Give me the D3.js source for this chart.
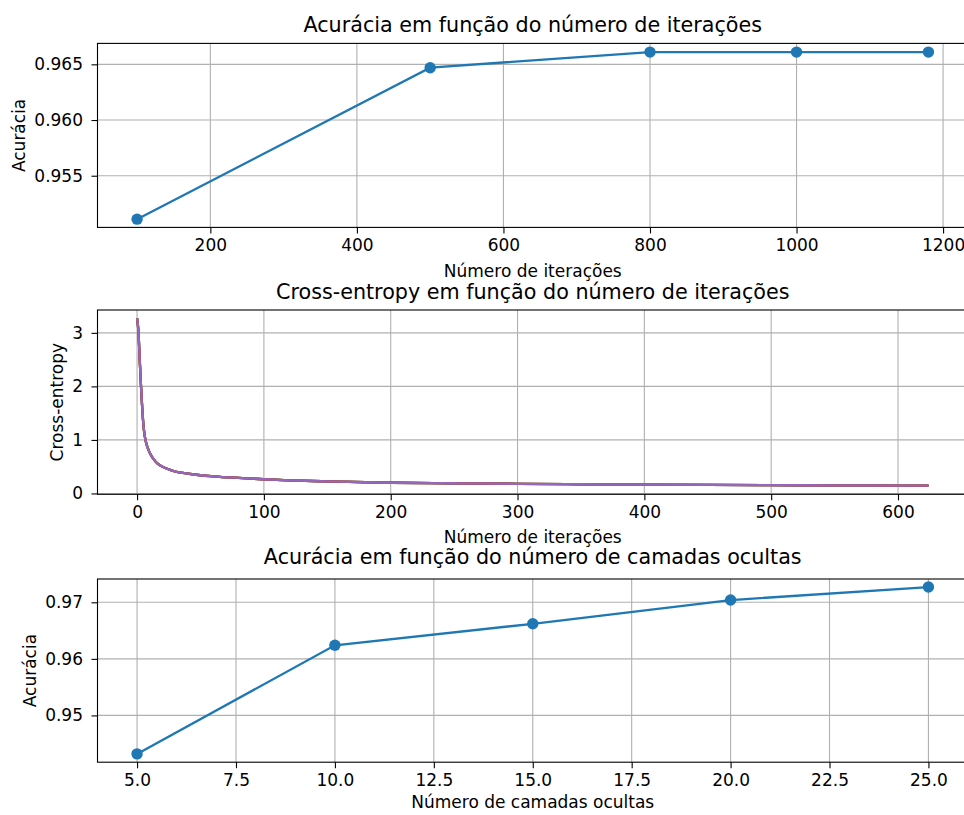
<!DOCTYPE html>
<html>
<head>
<meta charset="utf-8">
<script src="https://cdn.jsdelivr.net/npm/d3@7"></script>
<style>
  body { margin: 0; background: #fff; }
  svg { display: block; }
  text { font-family: "DejaVu Sans", sans-serif; fill: #000; }
</style>
</head>
<body>
<div id="chart"></div>
<script>
// accuracy vs number of iterations
var iterCounts = [100, 500, 800, 1000, 1180];
var iterAccuracy = [0.9511, 0.9647, 0.9661, 0.9661, 0.9661];

// cross-entropy loss curve
var lossIter = [0, 1, 2, 3, 4, 5, 6, 8, 10, 13, 16, 20, 25, 30, 40, 50, 60, 80, 100, 120, 150, 200, 250, 300, 350, 400, 450, 500, 550, 600, 624];
var lossValue = [3.27, 3.05, 2.55, 2.05, 1.62, 1.28, 1.08, 0.88, 0.76, 0.64, 0.56, 0.50, 0.45, 0.41, 0.37, 0.34, 0.32, 0.29, 0.265, 0.245, 0.225, 0.20, 0.19, 0.18, 0.172, 0.165, 0.16, 0.155, 0.151, 0.147, 0.145];
var lossRuns = ["#1f77b4", "#ff7f0e", "#2ca02c", "#d62728", "#9467bd"];

// accuracy vs number of hidden layers
var hiddenLayers = [5, 10, 15, 20, 25];
var layerAccuracy = [0.9432, 0.9624, 0.9662, 0.9704, 0.9727];

var width = 964, height = 815;
var left = 97.5, right = 968;
var fs = 17, titleFs = 20.7;

var svg = d3.select("#chart").append("svg")
    .attr("width", width)
    .attr("height", height);

function panel(opt){
    var g = svg.append("g");
    var x = d3.scaleLinear().domain(opt.xDomain).range([left, right]);
    var y = d3.scaleLinear().domain(opt.yDomain).range([opt.bottom, opt.top]);

    // grid
    g.append("g").selectAll("line").data(opt.xTicks).enter().append("line")
        .attr("x1", d => x(d)).attr("x2", d => x(d))
        .attr("y1", opt.top).attr("y2", opt.bottom)
        .attr("stroke", "#b0b0b0").attr("stroke-width", 1.1);
    g.append("g").selectAll("line").data(opt.yTicks).enter().append("line")
        .attr("x1", left).attr("x2", right)
        .attr("y1", d => y(d)).attr("y2", d => y(d))
        .attr("stroke", "#b0b0b0").attr("stroke-width", 1.1);

    opt.draw(g, x, y);

    // axes
    var xa = g.append("g").attr("transform", "translate(0," + opt.bottom + ")")
        .call(d3.axisBottom(x).tickValues(opt.xTicks).tickFormat(opt.xFormat).tickSize(6).tickPadding(6));
    var ya = g.append("g").attr("transform", "translate(" + left + ",0)")
        .call(d3.axisLeft(y).tickValues(opt.yTicks).tickFormat(opt.yFormat).tickSize(6).tickPadding(8.5));
    [xa, ya].forEach(function(a){
        a.select(".domain").remove();
        a.selectAll("line").attr("stroke", "#000").attr("stroke-width", 1.1);
        a.selectAll("text").style("font-size", fs + "px").attr("fill", "#000")
            .style("font-family", "DejaVu Sans");
    });

    g.append("rect")
        .attr("x", left).attr("y", opt.top)
        .attr("width", right - left).attr("height", opt.bottom - opt.top)
        .attr("fill", "none").attr("stroke", "#000").attr("stroke-width", 1.1);

    g.append("text")
        .attr("x", (left + right) / 2).attr("y", opt.titleY)
        .attr("text-anchor", "middle").style("font-size", titleFs + "px")
        .text(opt.title);
    g.append("text")
        .attr("x", (left + right) / 2).attr("y", opt.xLabelY)
        .attr("text-anchor", "middle").style("font-size", fs + "px")
        .text(opt.xLabel);
    g.append("text")
        .attr("transform", "translate(" + opt.yLabelX + "," + ((opt.top + opt.bottom) / 2) + ") rotate(-90)")
        .attr("text-anchor", "middle").style("font-size", fs + "px")
        .text(opt.yLabel);
}

function markerLine(xs, ys){
    return function(g, x, y){
        var pts = xs.map((d, i) => [d, ys[i]]);
        g.append("path").datum(pts)
            .attr("d", d3.line().x(d => x(d[0])).y(d => y(d[1])))
            .attr("fill", "none").attr("stroke", "#1f77b4").attr("stroke-width", 2.3);
        g.selectAll("circle.pt").data(pts).enter().append("circle")
            .attr("class", "pt")
            .attr("cx", d => x(d[0])).attr("cy", d => y(d[1]))
            .attr("r", 5.7).attr("fill", "#1f77b4");
    };
}

panel({
    top: 43.4, bottom: 227.4,
    xDomain: [46, 1234], yDomain: [0.95036, 0.96688],
    xTicks: [200, 400, 600, 800, 1000, 1200], yTicks: [0.955, 0.960, 0.965],
    xFormat: d3.format("d"), yFormat: d3.format(".3f"),
    title: "Acurácia em função do número de iterações", titleY: 32,
    xLabel: "Número de iterações", xLabelY: 276.5,
    yLabel: "Acurácia", yLabelX: 25,
    draw: markerLine(iterCounts, iterAccuracy)
});

panel({
    top: 310, bottom: 494.3,
    xDomain: [-31.2, 655.2], yDomain: [-0.016, 3.427],
    xTicks: [0, 100, 200, 300, 400, 500, 600], yTicks: [0, 1, 2, 3],
    xFormat: d3.format("d"), yFormat: d3.format("d"),
    title: "Cross-entropy em função do número de iterações", titleY: 299,
    xLabel: "Número de iterações", xLabelY: 543,
    yLabel: "Cross-entropy", yLabelX: 63,
    draw: function(g, x, y){
        var pts = lossIter.map((d, i) => [d, lossValue[i]]);
        var line = d3.line().x(d => x(d[0])).y(d => y(d[1])).curve(d3.curveMonotoneX);
        lossRuns.forEach(function(c){
            g.append("path").datum(pts)
                .attr("d", line)
                .attr("fill", "none").attr("stroke", c).attr("stroke-width", 2.3);
        });
    }
});

panel({
    top: 579, bottom: 762.2,
    xDomain: [4, 26], yDomain: [0.94173, 0.97412],
    xTicks: [5, 7.5, 10, 12.5, 15, 17.5, 20, 22.5, 25], yTicks: [0.95, 0.96, 0.97],
    xFormat: d3.format(".1f"), yFormat: d3.format(".2f"),
    title: "Acurácia em função do número de camadas ocultas", titleY: 564,
    xLabel: "Número de camadas ocultas", xLabelY: 808,
    yLabel: "Acurácia", yLabelX: 35.5,
    draw: markerLine(hiddenLayers, layerAccuracy)
});
</script>
</body>
</html>
